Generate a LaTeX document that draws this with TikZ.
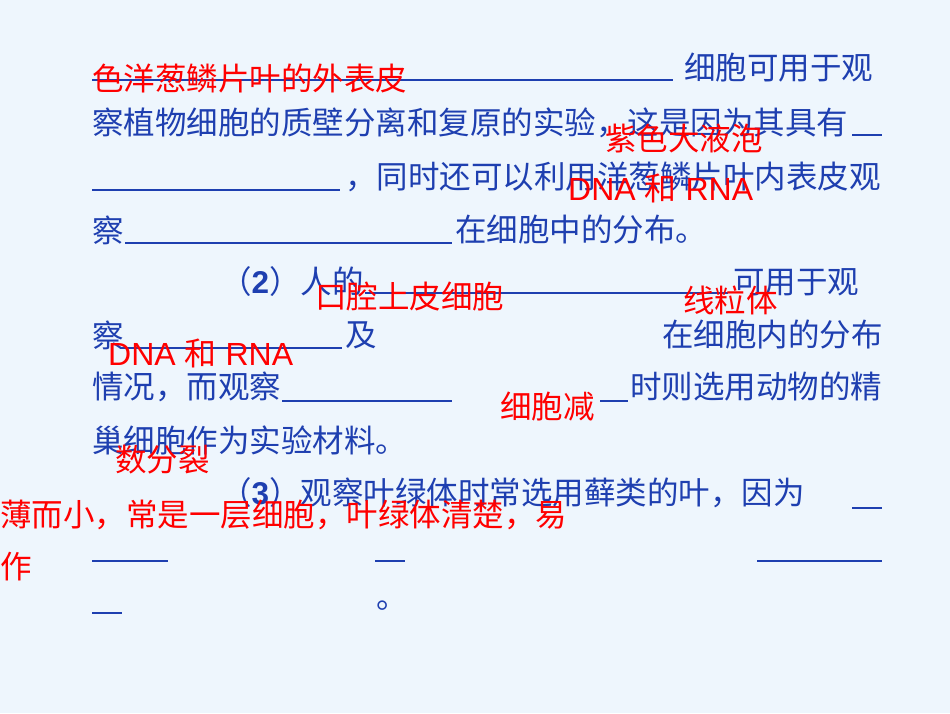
\documentclass[tikz,border=0pt]{standalone}
\usepackage{fontspec}
\setmainfont{Liberation Sans}
\newfontfamily\cjk{Noto Sans CJK SC}
\newfontfamily\cjkm{Noto Sans CJK SC Medium}
\definecolor{bg}{HTML}{EEF6FD}
\definecolor{bl}{HTML}{1E3FB0}
\definecolor{rd}{HTML}{FF0000}
\begin{document}
\begin{tikzpicture}[x=1pt,y=-1pt,
  bt/.style={anchor=west,inner sep=0pt,text=bl,font=\cjk\fontsize{31.5}{31.5}\selectfont},
  rt/.style={anchor=west,inner sep=0pt,text=rd,font=\cjk\fontsize{31.5}{31.5}\selectfont},
  rl/.style={anchor=west,inner sep=0pt,text=rd,font=\fontsize{32}{32}\selectfont},
  ul/.style={draw=bl,line width=1.6pt}]
\fill[bg] (0,0) rectangle (950,713);
\useasboundingbox (0,0) rectangle (950,713);
% blue text
\node[bt] (t1) at (684,68) {细胞可用于观};
\node[bt] (t2) at (92,123) {察植物细胞的质壁分离和复原的实验，这是因为其具有};
\node[bt] (t3) at (345,177) {，同时还可以利用洋葱鳞片叶内表皮观};
\node[bt] (t4a) at (92,230) {察};
\node[bt] (t4b) at (455,230) {在细胞中的分布。};
\node[bt] (t5) at (220,282) {（{\fontspec{Liberation Sans}\bfseries 2}）人的};
\node[bt] (t5b) at (733,282) {可用于观};
\node[bt] (t6a) at (92,335) {察};
\node[bt] (t6b) at (345,335) {及};
\node[bt] (t6c) at (662,335) {在细胞内的分布};
\node[bt] (t7a) at (92,387) {情况，而观察};
\node[bt] (t7b) at (630,387) {时则选用动物的精};
\node[bt] (t8) at (92,440) {巢细胞作为实验材料。};
\node[bt] (t9) at (220,493) {（{\fontspec{Liberation Sans}\bfseries 3}）观察叶绿体时常选用藓类的叶，因为};
\node[bt] (t11) at (376,606) {。};
% underlines
\draw[ul] (92,80) -- (673,80);
\draw[ul] (852,135) -- (882,135);
\draw[ul] (92,190) -- (340,190);
\draw[ul] (125,243) -- (452,243);
\draw[ul] (365,293) -- (728,293);
\draw[ul] (120,348) -- (342,348);
\draw[ul] (282,401) -- (452,401);
\draw[ul] (600,401) -- (628,401);
\draw[ul] (852,508) -- (882,508);
\draw[ul] (92,561) -- (168,561);
\draw[ul] (375,561) -- (405,561);
\draw[ul] (757,561) -- (882,561);
\draw[ul] (92,613) -- (122,613);
% red answers
\node[rt] (r1) at (92,78) {色洋葱鳞片叶的外表皮};
\node[rt] (r2) at (605,138) {紫色大液泡};
\node[rl] (r3) at (568,188) {DNA {\cjk 和} RNA};
\node[rt] (r4) at (315,297) {口腔上皮细胞};
\node[rt] (r5) at (683,300) {线粒体};
\node[rl] (r6) at (108,353) {DNA {\cjk 和} RNA};
\node[rt] (r7) at (500,407) {细胞减};
\node[rt] (r8) at (115,460) {数分裂};
\node[rt] (r9) at (0,515) {薄而小，常是一层细胞，叶绿体清楚，易};
\node[rt] (r10) at (0,567) {作};
\end{tikzpicture}
\end{document}
